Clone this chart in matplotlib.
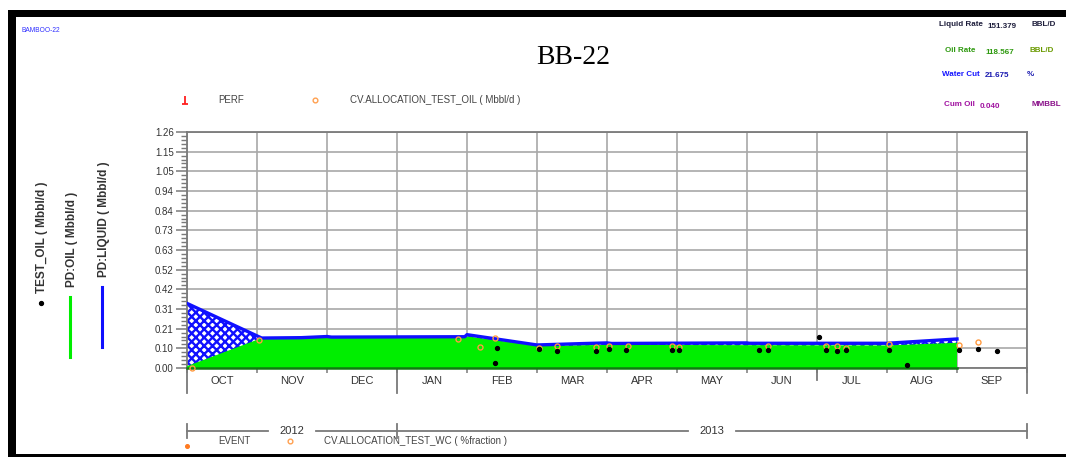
import calendar
import numpy as np
import matplotlib
matplotlib.use("Agg")
import matplotlib.pyplot as plt
from matplotlib import font_manager
from matplotlib.patches import Rectangle
from matplotlib.path import Path
from matplotlib.lines import Line2D
from matplotlib.ticker import FixedLocator, FixedFormatter, MultipleLocator


def pick_font(candidates):
    for name in candidates:
        try:
            font_manager.findfont(font_manager.FontProperties(family=name),
                                  fallback_to_default=False)
            return name
        except Exception:
            continue
    return "DejaVu Sans"


NARROW = pick_font(["Liberation Sans Narrow", "DejaVu Sans Condensed", "Liberation Sans"])
SERIF = pick_font(["Liberation Serif", "DejaVu Serif"])
SANS = pick_font(["Liberation Sans", "DejaVu Sans"])

# ---------------------------------------------------------------- data
month_labels = ["OCT", "NOV", "DEC", "JAN", "FEB", "MAR",
                "APR", "MAY", "JUN", "JUL", "AUG", "SEP"]
year_labels = ["2012", "2013"]
ytick_values = [0.0, 0.105, 0.21, 0.315, 0.42, 0.525, 0.63,
                0.735, 0.84, 0.945, 1.05, 1.155, 1.26]
ytick_labels = ["0.00", "0.10", "0.21", "0.31", "0.42", "0.52", "0.63",
                "0.73", "0.84", "0.94", "1.05", "1.15", "1.26"]

# PD:LIQUID (Mbbl/d)
liquid_dates = ["2012-10-01", "2012-11-03", "2012-11-20", "2012-12-01", "2012-12-03",
                "2013-01-31", "2013-02-01", "2013-03-01", "2013-03-20", "2013-04-01",
                "2013-04-03", "2013-06-01", "2013-06-02", "2013-08-01", "2013-09-01"]
liquid_rate = [0.345, 0.160, 0.162, 0.168, 0.165,
               0.167, 0.178, 0.123, 0.130, 0.134,
               0.131, 0.134, 0.132, 0.132, 0.155]

# PD:OIL (Mbbl/d)
oil_dates = ["2012-10-01", "2012-11-03", "2012-12-01", "2013-01-31", "2013-02-01",
             "2013-03-01", "2013-03-20", "2013-04-01", "2013-08-01", "2013-09-01"]
oil_rate = [0.005, 0.155, 0.158, 0.161, 0.165,
            0.114, 0.117, 0.119, 0.116, 0.130]

# TEST_OIL (Mbbl/d)
test_oil_dates = ["2013-02-13", "2013-02-12", "2013-03-02", "2013-03-10", "2013-03-27",
                  "2013-04-02", "2013-04-09", "2013-04-29", "2013-05-02", "2013-06-06",
                  "2013-06-10", "2013-07-02", "2013-07-05", "2013-07-10", "2013-07-14",
                  "2013-08-02", "2013-08-10", "2013-09-02", "2013-09-10", "2013-09-18"]
test_oil = [0.105, 0.025, 0.100, 0.091, 0.091,
            0.100, 0.096, 0.098, 0.094, 0.094,
            0.098, 0.167, 0.094, 0.091, 0.098,
            0.098, 0.014, 0.094, 0.100, 0.093]

# CV.ALLOCATION_TEST_OIL (Mbbl/d)
alloc_oil_dates = ["2012-10-03", "2012-11-02", "2013-01-28", "2013-02-06", "2013-02-12",
                   "2013-03-02", "2013-03-10", "2013-03-27", "2013-04-02", "2013-04-10",
                   "2013-04-29", "2013-05-02", "2013-06-10", "2013-07-05", "2013-07-10",
                   "2013-07-14", "2013-08-02", "2013-09-02", "2013-09-10"]
alloc_oil = [0.000, 0.150, 0.155, 0.110, 0.158,
             0.108, 0.119, 0.110, 0.119, 0.120,
             0.119, 0.112, 0.117, 0.119, 0.120,
             0.108, 0.128, 0.122, 0.139]

# header summary
summary_rows = [("Liquid Rate", "151.379", "BBL/D"),
                ("Oil Rate", "118.567", "BBL/D"),
                ("Water Cut", "21.675", "%"),
                ("Cum Oil", "0.040", "MMBBL")]


def month_pos(s):
    """Position on the month axis: one unit per calendar month from Oct 2012."""
    y, m, d = (int(v) for v in s.split("-"))
    ndays = calendar.monthrange(y, m)[1]
    return (y - 2012) * 12 + (m - 10) + (d - 1) / ndays


x_liq = np.array([month_pos(s) for s in liquid_dates])
x_oil = np.array([month_pos(s) for s in oil_dates])
x_test = np.array([month_pos(s) for s in test_oil_dates])
x_alloc = np.array([month_pos(s) for s in alloc_oil_dates])

# ---------------------------------------------------------------- figure
W, H = 1066, 457
fig = plt.figure(figsize=(W / 100, H / 100), dpi=100)
fig.patch.set_facecolor("white")


def fx(px):
    return px / W


def fy(py):
    return 1 - py / H


ax = fig.add_axes([fx(187), fy(368), fx(1027) - fx(187), fy(132) - fy(368)])
ax.set_xlim(0, 12)
ax.set_ylim(0, 1.26)
ax.set_axisbelow(True)

GRID = "#a8a8a8"
AXC = "#7a7a7a"
for side in ["left", "right", "top", "bottom"]:
    ax.spines[side].set_color(AXC)
    ax.spines[side].set_linewidth(1.3)

# fills: green oil area and blue hatched liquid-minus-oil area
xs = np.union1d(x_liq, x_oil)
liq_i = np.interp(xs, x_liq, liquid_rate)
oil_i = np.interp(xs, x_oil, oil_rate)
plt.rcParams["hatch.linewidth"] = 1.7
plt.rcParams["hatch.color"] = "#1010ff"
ax.fill_between(xs, oil_i, liq_i, facecolor="white", edgecolor="#1010ff",
                hatch="xxxx", linewidth=0, zorder=2)
ax.fill_between(x_oil, 0, oil_rate, facecolor="#00ee00", edgecolor="none", zorder=3)
ax.plot(x_oil, oil_rate, color="#00ee00", lw=1.2, zorder=3)
ax.plot([x_oil[0], x_oil[-1]], [0, 0], color="#127a12", lw=1.8, zorder=4, clip_on=False)
ax.plot(x_liq, liquid_rate, color="#1010ff", lw=2.4, zorder=5, solid_joinstyle="round")

# points
ax.plot(x_alloc, alloc_oil, ls="none", marker="o", ms=3.6, mfc="none",
        mec="#ff9a40", mew=1.0, zorder=6, clip_on=False)
ax.plot(x_test, test_oil, ls="none", marker="o", ms=2.8, color="black", zorder=7,
        clip_on=False)

# y axis
ax.yaxis.set_major_locator(FixedLocator(ytick_values))
ax.yaxis.set_major_formatter(FixedFormatter(ytick_labels))
ax.yaxis.set_minor_locator(MultipleLocator(0.021))
ax.tick_params(axis="y", which="major", length=8, width=1.1, color=AXC, pad=1.5,
               labelsize=7, labelcolor="#333333")
ax.tick_params(axis="y", which="minor", length=4.5, width=1.0, color=AXC)
for lab in ax.get_yticklabels():
    lab.set_fontfamily(NARROW)

# x axis: month boundaries carry ticks, month centres carry labels
ax.xaxis.set_major_locator(FixedLocator(np.arange(13)))
ax.xaxis.set_major_formatter(FixedFormatter([""] * 13))
ax.xaxis.set_minor_locator(FixedLocator(np.arange(12) + 0.5))
ax.xaxis.set_minor_formatter(FixedFormatter(month_labels))
ax.tick_params(axis="x", which="major", length=3.5, width=1.1, color=AXC)
ax.tick_params(axis="x", which="minor", length=0, pad=6, labelsize=8,
               labelcolor="#333333")
for lab in ax.get_xticklabels(minor=True):
    lab.set_fontfamily(NARROW)

ax.grid(which="major", color=GRID, lw=1.2)

# longer boundary ticks and the year bar below the month row
xt = ax.get_xaxis_transform()
for xb, depth in [(0, 25), (3, 25), (9, 12), (12, 25)]:
    ax.plot([xb, xb], [0, -depth / 236], transform=xt, color=AXC, lw=1.3,
            clip_on=False)

y_bar = (368 - 431) / 236
for a, b in [(0, 1.157), (1.843, 7.157), (7.843, 12)]:
    ax.plot([a, b], [y_bar, y_bar], transform=xt, color=AXC, lw=1.3, clip_on=False)
for xb in [0, 3, 12]:
    ax.plot([xb, xb], [(368 - 424) / 236, (368 - 438) / 236], transform=xt,
            color=AXC, lw=1.3, clip_on=False)
for xc, lab in zip([1.5, 7.5], year_labels):
    ax.text(xc, y_bar, lab, transform=xt, ha="center", va="center",
            fontsize=8, family=NARROW, color="#333333")

# ---------------------------------------------------------------- frame
for (x0, y0, x1, y1) in [(8, 10, 1066, 17), (8, 10, 16, 457), (8, 454, 1066, 457)]:
    fig.add_artist(Rectangle((fx(x0), fy(y1)), fx(x1) - fx(x0), fy(y0) - fy(y1),
                             transform=fig.transFigure, facecolor="black",
                             edgecolor="none"))

# ---------------------------------------------------------------- titles
fig.text(fx(573), fy(57), "BB-22", ha="center", va="center", fontsize=20,
         family=SERIF, color="black")
fig.text(fx(22), fy(30), "BAMBOO-22", ha="left", va="center", fontsize=4.8,
         family=NARROW, color="#3030ff")

row_y = [25, 51, 74, 104]
label_colors = ["#1e1e3c", "#2f9a10", "#1515ff", "#a010a0"]
value_colors = ["#1e1e3c", "#2f9a10", "#1a1ab0", "#a010a0"]
unit_colors = ["#1e1e3c", "#6a9a00", "#1a1ab0", "#8a108a"]
label_right = [983, 975, 980, 975]
value_x = [987, 985, 985, 980]
unit_x = [1031, 1030, 1027, 1032]
for i, (name, val, unit) in enumerate(summary_rows):
    fig.text(fx(label_right[i]), fy(row_y[i]), name, ha="right", va="center",
             fontsize=5.8, family=NARROW, weight="bold", color=label_colors[i])
    fig.text(fx(value_x[i]), fy(row_y[i] + 2), val, ha="left", va="center",
             fontsize=5.8, family=NARROW, weight="bold", color=value_colors[i])
    fig.text(fx(unit_x[i]), fy(row_y[i]), unit, ha="left", va="center",
             fontsize=5.8, family=NARROW, weight="bold", color=unit_colors[i])

# ---------------------------------------------------------------- legends
perf_marker = Path([(0, -1), (0, 1), (-0.7, -1), (0.7, -1)],
                   [Path.MOVETO, Path.LINETO, Path.MOVETO, Path.LINETO])
fig.add_artist(Line2D([fx(185)], [fy(100)], marker=perf_marker, ms=6, mew=1.3,
                      color="#ff2020", ls="none", transform=fig.transFigure))
fig.text(fx(218), fy(100), "PERF", ha="left", va="center", fontsize=7,
         family=NARROW, color="#444444")
fig.add_artist(Line2D([fx(315)], [fy(100)], marker="o", ms=3.4, mfc="none",
                      mec="#ffa050", mew=1.0, ls="none", transform=fig.transFigure))
fig.text(fx(350), fy(100), "CV.ALLOCATION_TEST_OIL ( Mbbl/d )", ha="left",
         va="center", fontsize=7, family=NARROW, color="#444444")

fig.add_artist(Line2D([fx(187)], [fy(446)], marker="o", ms=2.6, color="#ff7a20",
                      ls="none", transform=fig.transFigure))
fig.text(fx(218), fy(441), "EVENT", ha="left", va="center", fontsize=7,
         family=NARROW, color="#444444")
fig.add_artist(Line2D([fx(290)], [fy(441)], marker="o", ms=3.4, mfc="none",
                      mec="#ffa050", mew=1.0, ls="none", transform=fig.transFigure))
fig.text(fx(324), fy(441), "CV.ALLOCATION_TEST_WC ( %fraction )", ha="left",
         va="center", fontsize=7, family=NARROW, color="#444444")

# rotated series legend on the left
fig.text(fx(42), fy(293), "TEST_OIL ( Mbbl/d )", rotation=90, ha="center",
         va="bottom", fontsize=8.5, family=SANS, weight="bold", color="#333333")
fig.add_artist(Line2D([fx(41)], [fy(303)], marker="o", ms=2.8, color="black",
                      ls="none", transform=fig.transFigure))
fig.text(fx(72), fy(287), "PD:OIL ( Mbbl/d )", rotation=90, ha="center",
         va="bottom", fontsize=8.5, family=SANS, weight="bold", color="#333333")
fig.add_artist(Line2D([fx(70), fx(70)], [fy(297), fy(357)], color="#00ee00", lw=2.2,
                      transform=fig.transFigure))
fig.text(fx(104), fy(277), "PD:LIQUID ( Mbbl/d )", rotation=90, ha="center",
         va="bottom", fontsize=8.5, family=SANS, weight="bold", color="#333333")
fig.add_artist(Line2D([fx(102), fx(102)], [fy(287), fy(347)], color="#1010ff", lw=2.2,
                      transform=fig.transFigure))

fig.savefig("out.png", dpi=100)
